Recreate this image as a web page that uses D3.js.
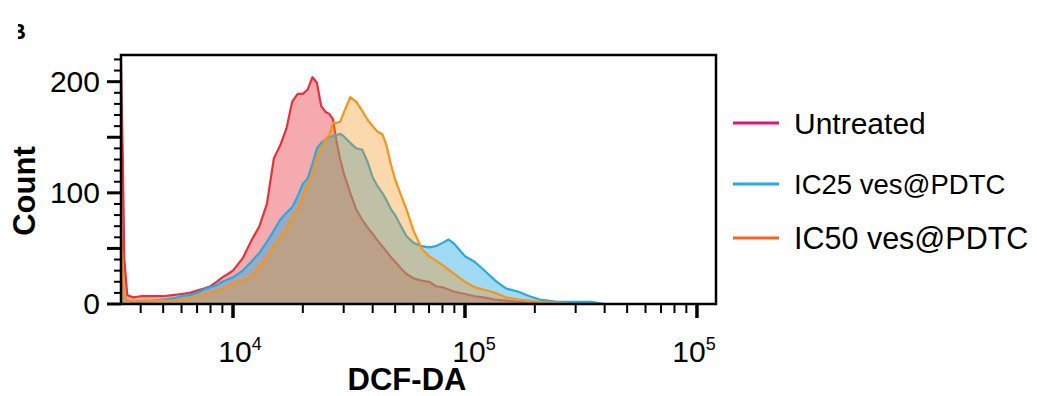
<!DOCTYPE html>
<html lang="en">
<head>
<meta charset="UTF-8">
<title>DCF-DA histogram</title>
<style>
  body { margin: 0; padding: 0; background: #fff; }
  svg { display: block; font-family: "Liberation Sans", Arial, sans-serif; }
  .tick-label { font-size: 30px; fill: #000; }
  .axis-title { font-size: 31px; font-weight: bold; fill: #000; }
</style>
</head>
<body>
<svg id="chart"></svg>
<script src="https://d3js.org/d3.v7.min.js"></script>
<script>
// DCF-DA channel values (shared bins for all three histograms)
const dcfda = [3290, 3350, 3400, 3500, 3700, 4000, 4500, 5000, 5500, 6000, 6500, 7000, 7500, 8000,
  8500, 9000, 9500, 10000, 11000, 12000, 13000, 14000, 15000, 16000, 17000, 18000, 19000, 20000,
  21000, 22000, 23000, 24000, 25000, 26000, 27000, 28000, 29000, 30000, 32000, 34000, 36000, 38000,
  40000, 42000, 44000, 46000, 48000, 50000, 53000, 56000, 60000, 65000, 70000, 75000, 80000, 85000,
  90000, 100000, 110000, 120000, 135000, 150000, 170000, 190000, 210000, 250000, 300000, 350000,
  400000, 500000, 700000, 1000000, 1200000];

const untreated = [217, 130, 40, 8, 6, 7, 7, 7, 8, 9, 10, 12, 14, 16, 20, 24, 27, 30, 41, 57, 70, 90,
  131, 143, 158, 182, 189, 189, 193, 204, 199, 178, 173, 171, 166, 145, 130, 118, 100, 85, 76, 69,
  63, 57, 52, 47, 42, 38, 32, 27, 23, 21, 20, 16, 15, 13, 11, 9, 7, 6, 4, 3, 2, 1, 1, 0, 0, 0, 0,
  0, 0, 0, 0];

const ic25 = [55, 20, 6, 3, 2, 2, 3, 4, 5, 7, 8, 10, 13, 15, 17, 20, 22, 24, 30, 38, 46, 56, 66, 76,
  82, 87, 97, 108, 113, 126, 140, 145, 148, 150, 151, 152, 153, 151, 145, 140, 139, 128, 114, 106,
  100, 93, 85, 80, 70, 61, 55, 52, 51, 52, 55, 58, 54, 43, 38, 31, 21, 14, 11, 7, 4, 2, 2, 2, 0, 0,
  0, 0, 0];

const ic50 = [69, 30, 6, 3, 3, 3, 3, 3, 3, 4, 5, 7, 9, 10, 12, 14, 16, 19, 21, 25, 34, 42, 52, 60,
  68, 78, 85, 98, 108, 118, 133, 140, 148, 152, 163, 163, 164, 172, 186, 182, 174, 166, 160, 155,
  153, 142, 125, 112, 98, 85, 66, 50, 43, 39, 35, 31, 27, 20, 15, 13, 10, 6, 4, 3, 2, 1, 0, 0, 0, 0,
  0, 0, 0];

// legend
const legendNames = ["Untreated", "IC25 ves@PDTC", "IC50 ves@PDTC"];
const legendColors = ["#e6137f", "#29abe2", "#f26522"];

// axis ticks
const yTickLabels = [0, 100, 200];
const xTickValues = [1e4, 1e5, 1e6];
const xTickExponents = ["4", "5", "5"];

const width = 1037, height = 396;
const plot = { left: 121, right: 716, top: 55, bottom: 304 };

const svg = d3.select("#chart").attr("width", width).attr("height", height);

const x = d3.scaleLog().domain([3290, 1.208e6]).range([plot.left, plot.right]);
const y = d3.scaleLinear().domain([0, 224]).range([plot.bottom, plot.top]);

svg.append("defs").append("clipPath").attr("id", "plotClip")
  .append("rect")
  .attr("x", plot.left).attr("y", plot.top)
  .attr("width", plot.right - plot.left).attr("height", plot.bottom - plot.top);

// series drawn bottom to top: red, blue, orange
const series = [
  { values: untreated, stroke: "#e5323c", fill: "#e8343e", opacity: 0.42 },
  { values: ic25, stroke: "#27aae1", fill: "#27aae1", opacity: 0.44 },
  { values: ic50, stroke: "#f7941d", fill: "#f7941d", opacity: 0.36 }
];

const area = d3.area()
  .x((d, i) => x(dcfda[i]))
  .y0(y(0))
  .y1(d => y(d));
const line = d3.line()
  .x((d, i) => x(dcfda[i]))
  .y(d => y(d));

const g = svg.append("g").attr("clip-path", "url(#plotClip)");
series.forEach(s => {
  g.append("path").datum(s.values)
    .attr("d", area)
    .attr("fill", s.fill)
    .attr("fill-opacity", s.opacity);
  g.append("path").datum(s.values)
    .attr("d", line)
    .attr("fill", "none")
    .attr("stroke", s.stroke)
    .attr("stroke-width", 2.2)
    .attr("stroke-linejoin", "round");
});

// frame
svg.append("rect")
  .attr("x", plot.left).attr("y", plot.top)
  .attr("width", plot.right - plot.left).attr("height", plot.bottom - plot.top)
  .attr("fill", "none").attr("stroke", "#000").attr("stroke-width", 2.5);

// y ticks every 10, longer every 50
const yTicks = d3.range(0, 221, 10);
svg.append("g").selectAll("line").data(yTicks).enter().append("line")
  .attr("x1", d => d % 50 === 0 ? plot.left - 14 : plot.left - 7)
  .attr("x2", plot.left)
  .attr("y1", d => y(d)).attr("y2", d => y(d))
  .attr("stroke", "#000")
  .attr("stroke-width", d => d % 50 === 0 ? 3 : 2);

svg.append("g").selectAll("text").data(yTickLabels).enter().append("text")
  .attr("class", "tick-label")
  .attr("x", plot.left - 21)
  .attr("y", d => y(d) + 10)
  .attr("text-anchor", "end")
  .text(d => d);

// x ticks: log decades with minor ticks
const xMinor = [];
[1e3, 1e4, 1e5].forEach(dec => {
  for (let k = 2; k <= 9; k++) {
    const v = k * dec;
    if (v > x.domain()[0] && v < x.domain()[1]) xMinor.push(v);
  }
});
svg.append("g").selectAll("line").data(xMinor).enter().append("line")
  .attr("x1", d => x(d)).attr("x2", d => x(d))
  .attr("y1", plot.bottom).attr("y2", plot.bottom + 9)
  .attr("stroke", "#000").attr("stroke-width", 2);
svg.append("g").selectAll("line").data(xTickValues).enter().append("line")
  .attr("x1", d => x(d)).attr("x2", d => x(d))
  .attr("y1", plot.bottom).attr("y2", plot.bottom + 14)
  .attr("stroke", "#000").attr("stroke-width", 3.5);

const xLabelNudge = [7, 9, -3];
const xl = svg.append("g").selectAll("text").data(xTickValues).enter().append("text")
  .attr("class", "tick-label")
  .attr("x", (d, i) => x(d) + xLabelNudge[i])
  .attr("y", 362)
  .attr("text-anchor", "middle");
xl.append("tspan").text("10");
xl.append("tspan")
  .attr("dy", -12)
  .style("font-size", "18px")
  .text((d, i) => xTickExponents[i]);

// axis titles
svg.append("text")
  .attr("class", "axis-title")
  .attr("x", 407).attr("y", 390)
  .attr("text-anchor", "middle")
  .text("DCF-DA");

svg.append("text")
  .attr("class", "axis-title")
  .attr("transform", "translate(35,191) rotate(-90)")
  .attr("text-anchor", "middle")
  .text("Count");

// clipped panel letter at top-left
svg.append("defs").append("clipPath").attr("id", "letterClip")
  .append("rect").attr("x", 18).attr("y", 0).attr("width", 30).attr("height", 60);
svg.append("text")
  .attr("clip-path", "url(#letterClip)")
  .attr("x", 10).attr("y", 39)
  .style("font-size", "22px").style("font-weight", "bold")
  .text("B");

// legend
const legendY = [123, 184, 238];
const legendFont = [30, 27.5, 30.5];
const lg = svg.append("g").selectAll("g").data(legendNames).enter().append("g");
lg.append("line")
  .attr("x1", 733).attr("x2", 779)
  .attr("y1", (d, i) => legendY[i]).attr("y2", (d, i) => legendY[i])
  .attr("stroke", (d, i) => legendColors[i])
  .attr("stroke-width", 3);
lg.append("text")
  .attr("x", 794)
  .attr("y", (d, i) => legendY[i] + legendFont[i] * 0.35)
  .style("font-size", (d, i) => legendFont[i] + "px")
  .text(d => d);
</script>
</body>
</html>
